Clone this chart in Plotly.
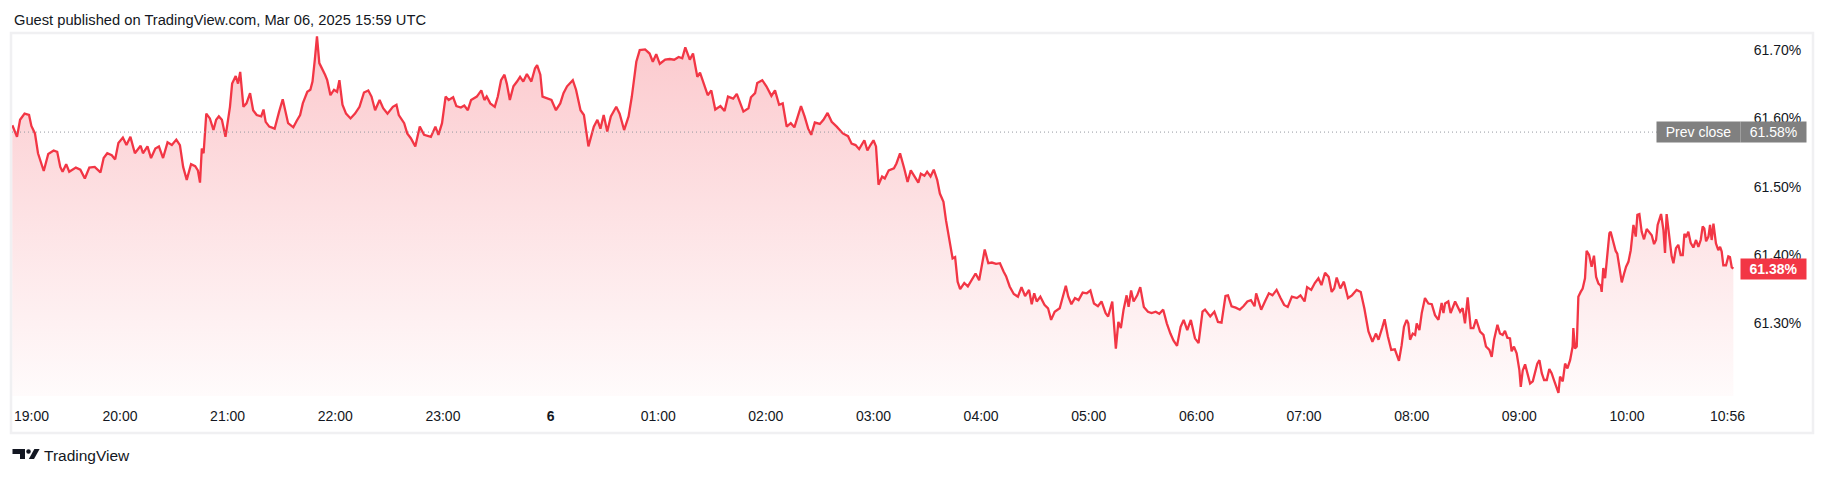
import plotly.graph_objects as go
import pandas as pd

# ---------------- data (minutes after Mar 5 19:00, value in %) ----------------
minutes = [
 0,2.6,4.3,6.8,9.3,10.6,12.6,14.3,17.5,20.0,23.0,25.0,26.7,28.0,30.0,31.7,35.4,37.9,40.4,42.9,45.9,49.1,50.9,52.9,55.4,57.3,59.1,61.6,63.6,65.8,68.3,71.5,72.8,75.3,77.3,79.7,81.7,84.0,86.5,88.9,91.4,93.4,95.2,97.2,99.6,101.9,103.4,104.6,105.6,106.6,108.1,110.1,112.1,113.6,115.1,116.8,118.8,121.3,122.5,124.5,125.8,127.0,128.8,130.5,132.5,134.2,136.2,138.7,140.0,141.2,143.2,146.2,148.7,150.7,153.7,156.6,158.6,160.4,161.9,164.4,166.1,167.3,168.6,169.8,171.1,172.8,174.3,175.5,177.3,179.3,181.0,182.3,184.0,186.0,188.5,191.0,193.5,196.0,198.4,200.2,202.2,204.7,206.7,209.1,212.1,214.1,215.4,218.4,220.1,222.1,224.6,227.1,229.5,233.3,235.8,237.5,239.5,241.5,243.2,245.7,247.5,250.0,251.9,253.9,255.7,258.9,261.4,263.1,264.4,266.4,268.9,270.6,272.4,274.3,275.6,277.3,279.3,281.3,283.0,284.8,286.8,289.3,291.3,292.5,294.3,295.5,298.0,300.5,303.0,305.4,307.2,309.2,312.4,314.2,316.7,318.6,321.1,324.1,326.1,327.8,329.6,331.6,333.6,336.6,338.5,341.0,343.5,345.3,347.8,349.7,352.7,355.2,357.0,358.9,360.9,363.9,366.4,368.9,371.4,373.4,375.1,377.6,379.4,381.8,
 383.3,385.6,387.6,389.6,391.8,394.7,397.0,398.9,401.8,403.8,407.5,410.3,411.7,414.0,415.2,418.0,420.3,423.1,425.1,427.4,429.4,431.6,433.9,435.9,439.6,441.6,443.6,445.3,447.3,450.1,452.1,454.4,456.7,459.5,462.9,465.8,467.8,470.0,472.0,474.9,476.6,478.3,480.0,481.4,482.8,484.8,486.3,488.5,491.4,492.8,494.8,497.1,499.0,500.8,502.7,505.0,506.4,508.4,509.9,511.8,513.6,515.5,517.0,519.0,520.4,522.7,524.1,525.5,526.9,528.3,530.6,532.6,535.4,536.9,538.9,540.3,542.0,544.0,546.0,548.3,550.5,552.5,553.9,555.9,558.2,560.5,562.5,564.5,566.7,568.2,569.6,571.0,573.0,575.3,577.3,579.0,581.0,583.8,585.8,587.2,588.6,590.3,592.3,594.3,596.6,598.9,600.9,602.9,605.1,607.1,609.4,610.8,613.1,615.1,616.5,617.9,619.4,621.1,622.2,623.6,625.0,627.0,628.7,630.7,633.0,635.0,637.3,639.3,641.5,643.5,645.5,647.2,649.2,651.2,652.9,654.9,656.9,659.2,661.2,663.4,664.8,667.7,670.0,672.0,674.0,676.2,677.6,679.6,681.9,684.2,686.2,688.4,690.4,692.4,693.3,696.1,698.4,700.4,702.4,704.7,706.9,708.9,710.9,713.2,716.0,718.0,720.3,721.7,724.0,726.0,728.0,729.7,731.7,733.7,735.4,736.8,738.2,740.2,742.2,744.5,746.7,749.3,751.6,753.6,755.9,758.1,760.1,761.5,763.5,764.9,766.7,768.6,770.6,772.9,
 774.4,775.7,777.2,778.1,779.1,780.6,781.9,782.8,784.3,785.6,787.4,789.3,791.2,793.0,794.9,796.7,797.7,798.6,800.4,801.7,804.2,805.5,807.0,808.4,809.7,811.2,812.9,814.4,815.9,818.1,820.0,821.4,823.3,824.6,825.9,827.8,829.2,830.7,832.0,833.3,834.8,835.7,837.0,838.5,840.0,840.8,841.9,843.2,844.5,846.0,847.5,848.7,850.0,851.2,852.5,853.8,855.3,856.7,858.0,859.3,860.8,861.8,862.7,864.2,865.5,866.8,868.3,869.7,870.1,871.0,872.0,872.9,874.2,875.3,876.6,877.5,878.9,880.3,881.6,882.8,884.1,885.4,885.9,886.8,887.8,888.7,890.2,890.9,892.4,893.7,894.6,895.8,897.1,898.4,899.5,900.8,902.1,903.6,904.9,905.8,906.9,908.2,909.5,911.0,912.5,913.8,915.1,916.2,917.1,918.1,919.0,920.3,921.2,922.1,923.6,924.9,925.9,927.3,928.6,929.9,931.1,932.0,932.9,934.2,935.5,937.0,938.5,939.8,941.1,942.2,943.1,944.1,945.4,946.3,947.2,948.2,949.6,950.9,951.9,952.8,953.7,955.2,956.5,957.4,958.4,959.3,
]
values = [
 61.590,61.573,61.598,61.607,61.605,61.589,61.578,61.549,61.523,61.548,61.553,61.551,61.529,61.522,61.533,61.522,61.528,61.525,61.512,61.528,61.529,61.521,61.542,61.549,61.546,61.540,61.564,61.572,61.561,61.573,61.549,61.560,61.549,61.559,61.542,61.556,61.559,61.542,61.565,61.561,61.569,61.561,61.529,61.510,61.533,61.530,61.524,61.506,61.556,61.549,61.607,61.600,61.583,61.598,61.603,61.598,61.573,61.617,61.651,61.662,61.651,61.668,61.617,61.622,61.637,61.612,61.605,61.603,61.613,61.595,61.588,61.585,61.610,61.628,61.593,61.587,61.597,61.605,61.622,61.639,61.642,61.654,61.686,61.720,61.681,61.673,61.664,61.656,61.634,61.642,61.639,61.656,61.620,61.607,61.600,61.607,61.617,61.638,61.641,61.632,61.612,61.627,61.615,61.607,61.617,61.620,61.605,61.593,61.578,61.571,61.559,61.588,61.576,61.573,61.588,61.576,61.593,61.632,61.627,61.631,61.618,61.616,61.619,61.612,61.627,61.632,61.641,61.627,61.632,61.622,61.617,61.632,61.656,61.664,61.651,61.627,61.647,61.654,61.661,61.654,61.665,61.654,61.673,61.678,61.664,61.632,61.629,61.627,61.612,61.622,61.637,61.647,61.656,61.642,61.612,61.605,61.559,61.588,61.598,61.585,61.605,61.581,61.603,61.617,61.607,61.583,61.603,61.632,61.683,61.700,61.701,61.695,61.683,61.694,61.680,61.686,61.687,61.686,61.690,61.688,61.704,61.686,61.695,61.661,
 61.667,61.649,61.634,61.641,61.613,61.618,61.611,61.632,61.629,61.636,61.610,61.615,61.631,61.637,61.652,61.656,61.647,61.633,61.641,61.620,61.622,61.588,61.593,61.587,61.618,61.603,61.585,61.576,61.594,61.592,61.598,61.608,61.595,61.588,61.578,61.574,61.563,61.561,61.555,61.568,61.553,61.561,61.568,61.559,61.503,61.515,61.512,61.524,61.527,61.534,61.549,61.527,61.507,61.524,61.515,61.506,61.519,61.516,61.522,61.515,61.525,61.510,61.490,61.478,61.451,61.415,61.395,61.397,61.361,61.350,61.359,61.354,61.366,61.373,61.363,61.385,61.408,61.388,61.389,61.387,61.388,61.376,61.369,61.354,61.343,61.339,61.353,61.340,61.349,61.328,61.344,61.332,61.339,61.327,61.322,61.305,61.317,61.322,61.341,61.355,61.339,61.328,61.337,61.334,61.345,61.344,61.348,61.329,61.325,61.332,61.315,61.310,61.332,61.263,61.302,61.293,61.320,61.341,61.324,61.348,61.332,61.341,61.353,61.324,61.317,61.315,61.317,61.314,61.320,61.300,61.285,61.275,61.267,61.295,61.305,61.290,61.305,61.278,61.271,61.317,61.320,61.310,61.317,61.302,61.301,61.340,61.341,61.325,61.323,61.320,61.325,61.332,61.334,61.325,61.344,61.320,61.333,61.344,61.341,61.349,61.337,61.327,61.324,61.339,61.337,61.341,61.332,61.353,61.349,61.359,61.366,61.356,61.374,61.368,61.346,61.351,61.367,61.351,61.361,61.337,61.341,61.349,61.346,61.322,61.288,61.273,61.285,61.276,61.293,61.306,61.281,61.261,61.262,61.245,
 61.268,61.295,61.305,61.300,61.276,61.285,61.283,61.300,61.290,61.315,61.337,61.329,61.328,61.312,61.305,61.330,61.315,61.329,61.332,61.315,61.332,61.324,61.317,61.322,61.300,61.338,61.293,61.293,61.306,61.288,61.283,61.266,61.261,61.251,61.276,61.298,61.285,61.283,61.289,61.279,61.278,61.259,61.266,61.256,61.232,61.207,61.231,61.240,61.227,61.212,61.215,61.227,61.241,61.246,61.227,61.217,61.217,61.233,61.227,61.217,61.205,61.198,61.222,61.215,61.241,61.234,61.246,61.266,61.293,61.263,61.266,61.339,61.346,61.351,61.366,61.406,61.400,61.383,61.399,61.368,61.358,61.355,61.346,61.381,61.366,61.393,61.432,61.434,61.417,61.406,61.402,61.383,61.360,61.373,61.383,61.390,61.407,61.444,61.427,61.459,61.460,61.434,61.423,61.438,61.434,61.429,61.416,61.422,61.444,61.451,61.460,61.437,61.403,61.460,61.424,61.398,61.388,61.410,61.415,61.400,61.400,61.431,61.426,61.434,61.418,61.411,61.422,61.412,61.422,61.442,61.439,61.420,61.427,61.444,61.422,61.446,61.417,61.407,61.412,61.405,61.385,61.385,61.398,61.397,61.382,61.380,
]
prev_close = 61.58
tick_minutes = [60, 120, 180, 240, 300, 360, 420, 480, 540, 600, 660, 720, 780, 840, 900, 956]
tick_labels = ["20:00", "21:00", "22:00", "23:00", "<b>6</b>", "01:00", "02:00", "03:00",
               "04:00", "05:00", "06:00", "07:00", "08:00", "09:00", "10:00", "10:56"]
first_label = "19:00"
price_ticks = [61.30, 61.40, 61.50, 61.60, 61.70]

# ---------------- layout constants ----------------
W, H = 1826, 478
ML, MR, MT, MB = 12, 86, 34, 82
PW, PH = W - ML - MR, H - MT - MB
Y_TOP, Y_BOT = 61.7236, 61.1936
FONT = "Liberation Sans"
TXT = "#131722"
RED = "#F23645"
GRAY = "#808080"

def px(x):
    return (x - ML) / PW

def py(y):
    return (H - MB - y) / PH

base = pd.Timestamp("2025-03-05 19:00")
times = [base + pd.Timedelta(minutes=m) for m in minutes]
tick_times = [base + pd.Timedelta(minutes=m) for m in tick_minutes]

fig = go.Figure()
fig.add_trace(go.Scatter(
    x=times, y=values, mode="lines",
    line=dict(color=RED, width=2.3),
    fill="tozeroy",
    fillgradient=dict(type="vertical",
                      colorscale=[[0, "rgba(242,54,69,0.02)"], [1, "rgba(242,54,69,0.27)"]],
                      start=Y_BOT, stop=Y_TOP),
    hoverinfo="skip", showlegend=False,
))

shapes = []
# outer frame
shapes.append(dict(type="rect", xref="paper", yref="paper",
                   x0=px(11), x1=px(1813), y0=py(433), y1=py(33),
                   line=dict(color="#F0F0F2", width=2.5), layer="below"))
# prev close dotted line
shapes.append(dict(type="line", xref="paper", yref="y", x0=0, x1=1,
                   y0=prev_close, y1=prev_close,
                   line=dict(color="#9598A1", width=1, dash="1px,3px")))
# TradingView logo glyph
def path(pts):
    return "M " + " L ".join(f"{px(a):.6f},{py(b):.6f}" for a, b in pts) + " Z"
shapes.append(dict(type="path", xref="paper", yref="paper",
                   path=path([(12.5, 449), (25, 449), (25, 459), (20, 459), (20, 454), (12.5, 454)]),
                   fillcolor=TXT, line=dict(width=0)))
shapes.append(dict(type="circle", xref="paper", yref="paper",
                   x0=px(26.2), x1=px(30.8), y0=py(453.8), y1=py(449.2),
                   fillcolor=TXT, line=dict(width=0)))
shapes.append(dict(type="path", xref="paper", yref="paper",
                   path=path([(28.8, 459), (34.0, 459), (39.6, 449), (34.4, 449)]),
                   fillcolor=TXT, line=dict(width=0)))

annotations = []
annotations.append(dict(text="Guest published on TradingView.com, Mar 06, 2025 15:59 UTC",
                        xref="paper", yref="paper", x=px(12), y=py(20),
                        xanchor="left", yanchor="middle", showarrow=False,
                        font=dict(family=FONT, size=14.7, color=TXT)))
annotations.append(dict(text="TradingView", xref="paper", yref="paper", x=px(42), y=py(455),
                        xanchor="left", yanchor="middle", showarrow=False,
                        font=dict(family=FONT, size=15.5, color=TXT)))
annotations.append(dict(text=first_label, xref="x", yref="paper", x=base, y=py(416),
                        xanchor="left", yanchor="middle", showarrow=False,
                        font=dict(family=FONT, size=14, color=TXT)))
# price labels
annotations.append(dict(text="Prev close", xref="paper", yref="y", x=px(1698), y=prev_close,
                        xanchor="center", yanchor="middle", showarrow=False,
                        width=81, height=18, borderpad=1, bgcolor=GRAY,
                        font=dict(family=FONT, size=14, color="white")))
annotations.append(dict(text=f"{prev_close:.2f}%", xref="paper", yref="y", x=px(1773.5), y=prev_close,
                        xanchor="center", yanchor="middle", showarrow=False,
                        width=63, height=18, borderpad=1, bgcolor=GRAY,
                        font=dict(family=FONT, size=14, color="white")))
annotations.append(dict(text=f"<b>{values[-1]:.2f}%</b>", xref="paper", yref="y", x=px(1773.5), y=values[-1],
                        xanchor="center", yanchor="middle", showarrow=False,
                        width=63, height=18, borderpad=1, bgcolor=RED,
                        font=dict(family=FONT, size=14, color="white")))

fig.update_layout(
    width=W, height=H,
    margin=dict(l=ML, r=MR, t=MT, b=MB, pad=0),
    paper_bgcolor="white", plot_bgcolor="white",
    showlegend=False, hovermode=False,
    shapes=shapes, annotations=annotations,
    xaxis=dict(range=[base - pd.Timedelta(minutes=0.2), base + pd.Timedelta(minutes=963)],
               tickvals=tick_times, ticktext=tick_labels,
               ticks="outside", ticklen=7, tickcolor="rgba(0,0,0,0)",
               showgrid=False, zeroline=False, showline=False,
               tickfont=dict(family=FONT, size=14, color=TXT), fixedrange=True),
    yaxis=dict(range=[Y_BOT, Y_TOP], side="right",
               tickvals=price_ticks, ticktext=[f"{v:.2f}%" for v in price_ticks],
               ticks="outside", ticklen=10, tickcolor="rgba(0,0,0,0)",
               showgrid=False, zeroline=False, showline=False,
               tickfont=dict(family=FONT, size=14, color=TXT), fixedrange=True),
)

fig.write_html("out.html", config={"displayModeBar": False},
               post_script="document.body.style.margin='0';")
